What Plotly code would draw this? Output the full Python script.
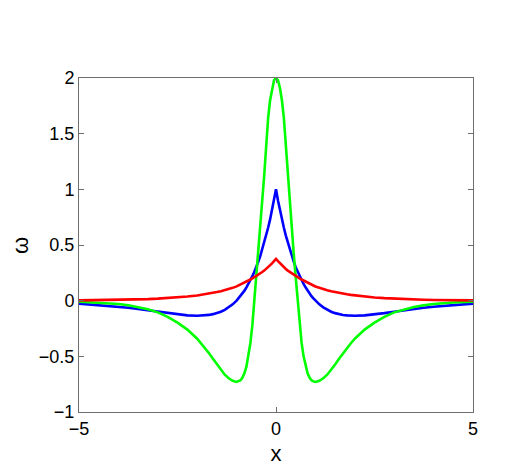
import plotly.graph_objects as go

# right-half x positions; the curves are symmetric about x = 0
xr = [0.0, 0.05, 0.1, 0.15, 0.2, 0.25, 0.3, 0.35, 0.4, 0.45, 0.5, 0.55, 0.6, 0.65, 0.7, 0.75,
      0.8, 0.85, 0.9, 0.95, 1.0, 1.1, 1.2, 1.3, 1.4, 1.5, 1.6, 1.7, 1.8, 1.9, 2.0,
      2.25, 2.5, 2.75, 3.0, 3.25, 3.5, 3.75, 4.0, 4.5, 5.0]

green_r = [2.0, 1.98, 1.91, 1.80, 1.64, 1.38, 1.12, 0.88, 0.64, 0.42, 0.21, -0.01, -0.22, -0.38, -0.50, -0.59,
           -0.65, -0.69, -0.715, -0.725, -0.73, -0.72, -0.697, -0.665, -0.622, -0.573, -0.522, -0.472, -0.425, -0.382, -0.342,
           -0.26, -0.197, -0.145, -0.105, -0.077, -0.056, -0.041, -0.03, -0.017, -0.01]

blue_r = [1.0, 0.90, 0.81, 0.73, 0.655, 0.585, 0.52, 0.46, 0.40, 0.35, 0.30, 0.26, 0.22, 0.185, 0.15, 0.12,
          0.09, 0.065, 0.04, 0.02, 0.0, -0.033, -0.06, -0.082, -0.099, -0.112, -0.121, -0.128, -0.132, -0.134, -0.135,
          -0.132, -0.124, -0.112, -0.10, -0.087, -0.075, -0.064, -0.055, -0.04, -0.027]

red_r = [0.375, 0.355, 0.335, 0.318, 0.30, 0.285, 0.27, 0.257, 0.245, 0.232, 0.22, 0.21, 0.20, 0.19, 0.18, 0.17,
         0.16, 0.152, 0.144, 0.136, 0.128, 0.115, 0.104, 0.094, 0.085, 0.077, 0.07, 0.063, 0.057, 0.052, 0.047,
         0.037, 0.029, 0.023, 0.018, 0.014, 0.011, 0.0085, 0.0066, 0.004, 0.0025]

x_vals = [-v for v in reversed(xr[1:])] + xr
green_vals = list(reversed(green_r[1:])) + green_r
blue_vals = list(reversed(blue_r[1:])) + blue_r
red_vals = list(reversed(red_r[1:])) + red_r

x_ticks = [-5, 0, 5]
y_ticks = [-1, -0.5, 0, 0.5, 1, 1.5, 2]

fig = go.Figure()
fig.add_trace(go.Scatter(x=x_vals, y=blue_vals, mode="lines",
                         line=dict(color="#0000ff", width=2.6)))
fig.add_trace(go.Scatter(x=x_vals, y=green_vals, mode="lines",
                         line=dict(color="#00ff00", width=2.6)))
fig.add_trace(go.Scatter(x=x_vals, y=red_vals, mode="lines",
                         line=dict(color="#ff0000", width=2.6)))

font_family = "Liberation Sans, Arial, Helvetica"
axis_common = dict(showline=True, linecolor="#6e6e6e", linewidth=1, mirror="allticks",
                   ticks="inside", ticklen=5, tickcolor="#6e6e6e", showgrid=False,
                   zeroline=False, automargin=False,
                   tickfont=dict(family=font_family, size=18, color="black"))

fig.update_layout(
    width=513, height=472,
    margin=dict(l=71, r=48, t=70, b=68),
    paper_bgcolor="white", plot_bgcolor="white",
    showlegend=False,
    xaxis=dict(range=[-5, 5], tickvals=x_ticks,
               ticktext=[str(v).replace("-", "\u2212") for v in x_ticks],
               title=dict(text="x", font=dict(family=font_family, size=22, color="black"), standoff=8),
               **axis_common),
    yaxis=dict(range=[-1, 2], tickvals=y_ticks,
               ticktext=[("%g" % v).replace("-", "\u2212") for v in y_ticks],
               **axis_common),
    annotations=[dict(text="ω", xref="paper", yref="paper", x=-0.15, y=0.5,
                      xanchor="center", yanchor="middle", textangle=-90, showarrow=False,
                      font=dict(family=font_family, size=22, color="black"))],
)

fig.write_html("out.html")
